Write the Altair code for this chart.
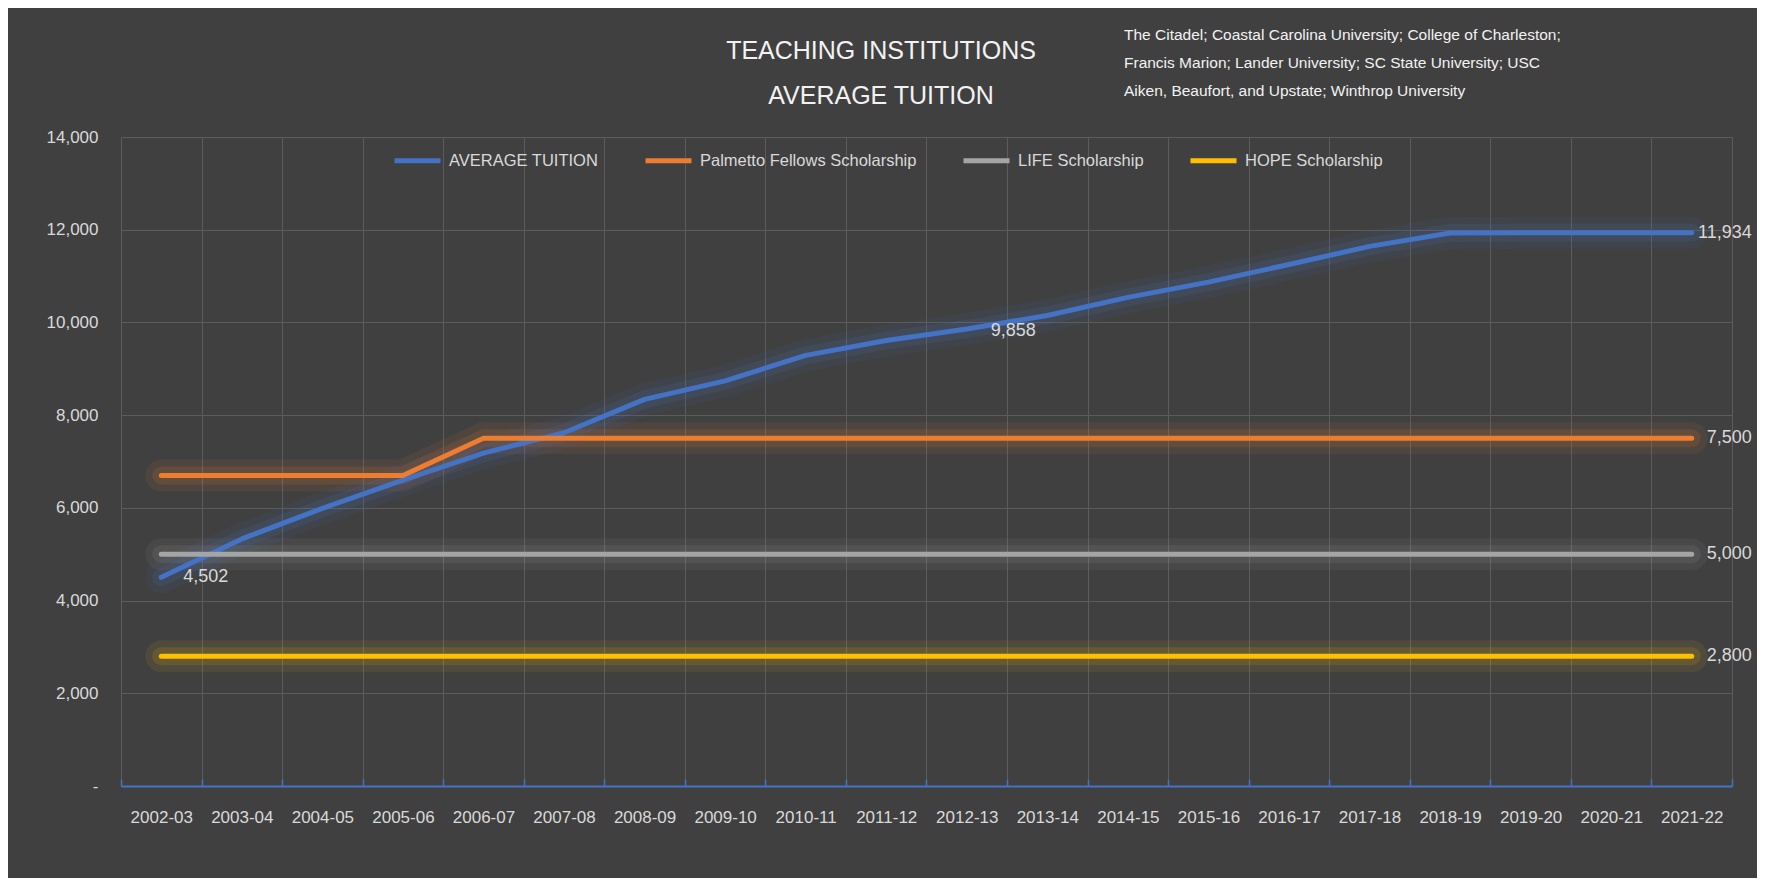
import altair as alt
import pandas as pd

years = ["2002-03", "2003-04", "2004-05", "2005-06", "2006-07", "2007-08", "2008-09",
         "2009-10", "2010-11", "2011-12", "2012-13", "2013-14", "2014-15", "2015-16",
         "2016-17", "2017-18", "2018-19", "2019-20", "2020-21", "2021-22"]
tuition = [4502, 5330, 5990, 6600, 7180, 7620, 8340, 8740, 9290, 9610,
           9858, 10150, 10540, 10870, 11250, 11640, 11930, 11934, 11934, 11934]
palmetto = [6700, 6700, 6700, 6700, 7500, 7500, 7500, 7500, 7500, 7500,
            7500, 7500, 7500, 7500, 7500, 7500, 7500, 7500, 7500, 7500]
life = [5000, 5000, 5000, 5000, 5000, 5000, 5000, 5000, 5000, 5000,
        5000, 5000, 5000, 5000, 5000, 5000, 5000, 5000, 5000, 5000]
hope = [2800, 2800, 2800, 2800, 2800, 2800, 2800, 2800, 2800, 2800,
        2800, 2800, 2800, 2800, 2800, 2800, 2800, 2800, 2800, 2800]
series_names = ["AVERAGE TUITION", "Palmetto Fellows Scholarship", "LIFE Scholarship", "HOPE Scholarship"]
series_colors = ["#4472C4", "#ED7D31", "#A5A5A5", "#FFC000"]
y_ticks = [0, 2000, 4000, 6000, 8000, 10000, 12000, 14000]
title_lines = ["TEACHING INSTITUTIONS", "AVERAGE TUITION"]
note_lines = ["The Citadel; Coastal Carolina University; College of Charleston;",
              "Francis Marion; Lander University; SC State University; USC",
              "Aiken, Beaufort, and Upstate; Winthrop University"]

rows = []
for name, vals in zip(series_names, [tuition, palmetto, life, hope]):
    for i, (yr, v) in enumerate(zip(years, vals)):
        rows.append({"year": yr, "value": v, "series": name, "idx": i})
df = pd.DataFrame(rows)

FONT = "Liberation Sans, Arial, sans-serif"
W, H = 1611, 649
TXT = "#D9D9D9"
GRID = "#5C5C5C"

xscale = alt.Scale(type="band", paddingInner=0, paddingOuter=0)
yscale = alt.Scale(domain=[0, 14000], nice=False, zero=True)
cscale = alt.Scale(domain=series_names, range=series_colors)

x_main = alt.X("year:O", sort=years, scale=xscale, bandPosition=0.5, title=None,
               axis=alt.Axis(orient="bottom", labels=True, labelAngle=0, labelFont=FONT,
                             labelFontSize=17, labelColor=TXT, labelPadding=23,
                             ticks=False, domain=False, grid=True, tickBand="extent",
                             gridColor=GRID, gridWidth=1))
x_dom = alt.X("year:O", sort=years, scale=xscale, bandPosition=0.5, title=None,
              axis=alt.Axis(orient="top", offset=-H, labels=False, ticks=True, tickSize=7,
                            tickColor="#4472C4", tickWidth=1.5, domain=True,
                            domainColor="#4472C4", domainWidth=2, grid=False,
                            tickBand="extent"))
x_none = alt.X("year:O", sort=years, scale=xscale, bandPosition=0.5, axis=None)

y_main = alt.Y("value:Q", scale=yscale, title=None,
               axis=alt.Axis(values=y_ticks, labelExpr="datum.value == 0 ? '-  ' : format(datum.value, ',')",
                             labelFont=FONT, labelFontSize=17, labelColor=TXT, labelPadding=23,
                             ticks=False, domain=False, grid=True, gridColor=GRID, gridWidth=1))
y_none = alt.Y("value:Q", scale=yscale, axis=None)

color_leg = alt.Color("series:N", scale=cscale, sort=series_names,
                      legend=alt.Legend(title=None, orient="none", legendX=271, legendY=-2,
                                        direction="horizontal", columns=4, columnPadding=36,
                                        symbolType="stroke", symbolSize=2116, symbolStrokeWidth=5,
                                        labelFont=FONT, labelFontSize=16.5, labelColor=TXT,
                                        labelOffset=6, labelLimit=600, padding=0))
color_none = alt.Color("series:N", scale=cscale, sort=series_names, legend=None)

base = alt.Chart(df)

glow1 = base.mark_line(strokeWidth=32, opacity=0.08, strokeCap="round", strokeJoin="round").encode(
    x=x_dom, y=y_none, color=color_none, detail="series:N")
glow2 = base.mark_line(strokeWidth=18, opacity=0.13, strokeCap="round", strokeJoin="round").encode(
    x=x_none, y=y_none, color=color_none, detail="series:N")
lines = base.mark_line(strokeWidth=5, strokeCap="round", strokeJoin="round").encode(
    x=x_main, y=y_main, color=color_leg)

lab_first = base.mark_text(align="left", baseline="middle", dx=22, font=FONT, fontSize=18,
                           color=TXT).encode(
    x=x_none, y=y_none, text=alt.Text("value:Q", format=",")
).transform_filter(
    (alt.datum.series == series_names[0]) & (alt.datum.idx == 0))
lab_mid = base.mark_text(align="left", baseline="middle", dx=24, dy=2, font=FONT, fontSize=18,
                         color=TXT).encode(
    x=x_none, y=y_none, text=alt.Text("value:Q", format=",")
).transform_filter(
    (alt.datum.series == series_names[0]) & (alt.datum.idx == 10))
lab_end = base.mark_text(align="right", baseline="middle", dx=60, font=FONT, fontSize=18,
                         color=TXT).encode(
    x=x_none, y=y_none, text=alt.Text("value:Q", format=",")
).transform_filter(alt.datum.idx == len(years) - 1)

one = alt.Data(values=[{}])
t1 = alt.Chart(one).mark_text(align="center", baseline="middle", font=FONT, fontSize=25,
                              color="#F2F2F2").encode(
    x=alt.value(760), y=alt.value(-86), text=alt.value(title_lines[0]))
t2 = alt.Chart(one).mark_text(align="center", baseline="middle", font=FONT, fontSize=25,
                              color="#F2F2F2").encode(
    x=alt.value(760), y=alt.value(-41), text=alt.value(title_lines[1]))
n1 = alt.Chart(one).mark_text(align="left", baseline="middle", font=FONT, fontSize=15.5,
                              color="#F2F2F2").encode(
    x=alt.value(1003), y=alt.value(-102), text=alt.value(note_lines[0]))
n2 = alt.Chart(one).mark_text(align="left", baseline="middle", font=FONT, fontSize=15.5,
                              color="#F2F2F2").encode(
    x=alt.value(1003), y=alt.value(-74), text=alt.value(note_lines[1]))
n3 = alt.Chart(one).mark_text(align="left", baseline="middle", font=FONT, fontSize=15.5,
                              color="#F2F2F2").encode(
    x=alt.value(1003), y=alt.value(-46), text=alt.value(note_lines[2]))

chart = alt.layer(glow1, glow2, lines, lab_first, lab_mid, lab_end, t1, t2, n1, n2, n3).resolve_axis(
    x="independent", y="independent"
).resolve_legend(
    color="independent"
).properties(
    width=W, height=H,
    autosize=alt.AutoSizeParams(type="none"),
    padding={"left": 113, "top": 129, "right": 25, "bottom": 92},
    background="#404040",
).configure_view(stroke=None)

chart.save("out.html", embed_options={"renderer": "svg", "actions": False})
